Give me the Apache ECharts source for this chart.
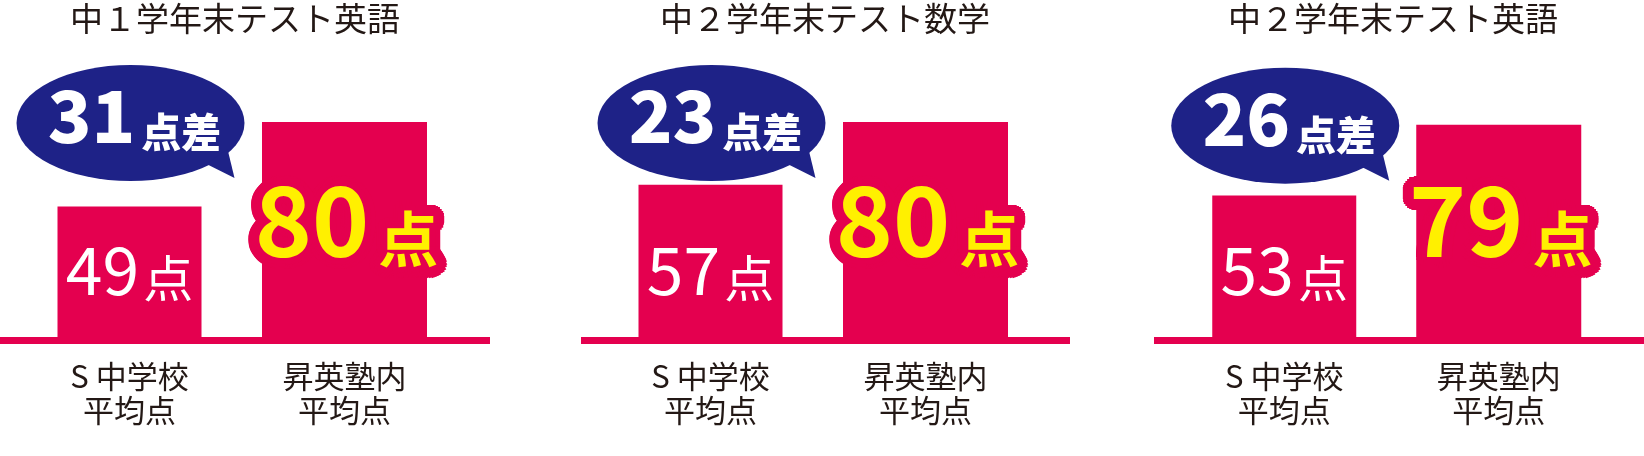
<!DOCTYPE html>
<html>
<head>
<meta charset="utf-8">
<script src="https://cdn.jsdelivr.net/npm/echarts@6/dist/echarts.min.js"></script>
<style>
html,body{margin:0;padding:0;background:#ffffff;}
#chart{width:1644px;height:456px;}
</style>
</head>
<body>
<div id="chart"></div>
<script>
// ---- data ----
const titles = ['中１学年末テスト英語', '中２学年末テスト数学', '中２学年末テスト英語'];
const categories = ['S 中学校\n平均点', '昇英塾内\n平均点'];
const schoolAvg = [49, 57, 53];
const jukuAvg = [80, 80, 79];
const unitText = '点';
const diffText = '点差';

// ---- style / layout ----
const RED = '#E4004F';
const NAVY = '#1E2287';
const YELLOW = '#FFF000';
const INK = '#231815';
const FONT = '"Noto Sans CJK JP", "Noto Sans", sans-serif';
const gridLeft = [22, 603, 1177];
const gridWidth = [430, 430, 429];
const GRID_TOP = 67.5;
const GRID_BOTTOM = 116;
const barWidths = [144, 165];
const baseLines = [[0, 490], [581, 1070], [1154, 1644]];
const titleCenters = [235, 825, 1393];
const HALO_R = 11;

function bigLabelStyle(text, x, y, fill) {
  return {
    text: text, x: x, y: y,
    align: 'center', verticalAlign: 'bottom',
    rich: {
      n: { fontSize: 97, lineHeight: 97, fontFamily: FONT, fontWeight: 700, fill: fill, verticalAlign: 'bottom' },
      u: { fontSize: 60, lineHeight: 60, fontFamily: FONT, fontWeight: 700, fill: fill, verticalAlign: 'bottom', padding: [0, 0, 0, 9] }
    }
  };
}

function renderBar(params, api) {
  const idx = api.value(0);
  const val = api.value(1);
  const top = api.coord([idx, val]);
  const base = api.coord([idx, 0]);
  const w = barWidths[idx];
  const cx = top[0];
  const children = [{
    type: 'rect',
    shape: { x: cx - w / 2, y: top[1], width: w, height: base[1] - top[1] },
    style: { fill: RED }
  }];
  const text = '{n|' + val + '}{u|' + unitText + '}';
  if (idx === 0) {
    children.push({
      type: 'text',
      z2: 10,
      style: {
        text: text,
        x: cx, y: base[1] - 37,
        align: 'center', verticalAlign: 'bottom',
        rich: {
          n: { fontSize: 66, lineHeight: 66, fontFamily: FONT, fontWeight: 400, fill: '#ffffff', verticalAlign: 'bottom' },
          u: { fontSize: 50, lineHeight: 50, fontFamily: FONT, fontWeight: 400, fill: '#ffffff', verticalAlign: 'bottom', padding: [0, 0, 0, 4] }
        }
      }
    });
  } else {
    const lx = cx + 2, ly = base[1] - 71;
    // rounded halo in the bar colour around the big label
    const rings = [[HALO_R, 28], [HALO_R * 0.6, 14]];
    rings.forEach(function (ring) {
      for (let k = 0; k < ring[1]; k++) {
        const a = 2 * Math.PI * k / ring[1];
        children.push({
          type: 'text', z2: 5,
          style: bigLabelStyle(text, lx + ring[0] * Math.cos(a), ly + ring[0] * Math.sin(a), RED)
        });
      }
    });
    children.push({ type: 'text', z2: 10, style: bigLabelStyle(text, lx, ly, YELLOW) });
  }
  return { type: 'group', children: children };
}

function renderBubble(params, api) {
  const anchor = api.coord([0, api.value(1)]);
  const diff = api.value(2);
  const cx = anchor[0] + 1;
  const cy = anchor[1] + 1;
  return {
    type: 'group',
    children: [
      { type: 'circle', x: cx, y: cy, scaleX: 114 / 58, scaleY: 1, shape: { cx: 0, cy: 0, r: 58 }, style: { fill: NAVY } },
      { type: 'polygon', shape: { points: [[cx + 76, cy + 41], [cx + 97, cy + 26], [cx + 104, cy + 55]] }, style: { fill: NAVY } },
      {
        type: 'text', z2: 10,
        style: {
          text: '{n|' + diff + '}{u|' + diffText + '}',
          x: cx + 4, y: cy + 29,
          align: 'center', verticalAlign: 'bottom',
          rich: {
            n: { fontSize: 72, lineHeight: 72, fontFamily: FONT, fontWeight: 900, fill: '#ffffff', verticalAlign: 'bottom' },
            u: { fontSize: 40, lineHeight: 40, fontFamily: FONT, fontWeight: 900, fill: '#ffffff', verticalAlign: 'bottom', padding: [0, 0, 0, 6] }
          }
        }
      }
    ]
  };
}

const grids = [], xAxes = [], yAxes = [], series = [], graphics = [];
titles.forEach(function (t, i) {
  grids.push({ left: gridLeft[i], width: gridWidth[i], top: GRID_TOP, bottom: GRID_BOTTOM });
  xAxes.push({
    type: 'category', gridIndex: i, data: categories,
    axisLine: { show: false }, axisTick: { show: false }, splitLine: { show: false },
    axisLabel: { color: INK, fontSize: 31, lineHeight: 34, fontFamily: FONT, margin: 19, interval: 0 }
  });
  yAxes.push({ type: 'value', gridIndex: i, min: 0, max: 100, show: false, splitLine: { show: false } });
  series.push({
    type: 'custom', name: t, xAxisIndex: i, yAxisIndex: i,
    renderItem: renderBar,
    encode: { x: 0, y: 1 },
    data: [[0, schoolAvg[i]], [1, jukuAvg[i]]],
    z: 2
  });
  series.push({
    type: 'custom', name: t + ' 差', xAxisIndex: i, yAxisIndex: i,
    renderItem: renderBubble,
    encode: { x: 0, y: 1 },
    data: [[0, jukuAvg[i], jukuAvg[i] - schoolAvg[i]]],
    z: 3
  });
  graphics.push({
    type: 'rect', z: 5,
    shape: { x: baseLines[i][0], y: 337, width: baseLines[i][1] - baseLines[i][0], height: 7 },
    style: { fill: RED }
  });
  graphics.push({
    type: 'text', z: 5,
    x: titleCenters[i], y: 18,
    style: { text: t, fontSize: 33, fontFamily: FONT, fontWeight: 400, fill: INK, align: 'center', verticalAlign: 'middle' }
  });
});

const chart = echarts.init(document.getElementById('chart'), null, { renderer: 'canvas' });
chart.setOption({
  animation: false,
  backgroundColor: '#ffffff',
  grid: grids,
  xAxis: xAxes,
  yAxis: yAxes,
  series: series,
  graphic: graphics
});
</script>
</body>
</html>
